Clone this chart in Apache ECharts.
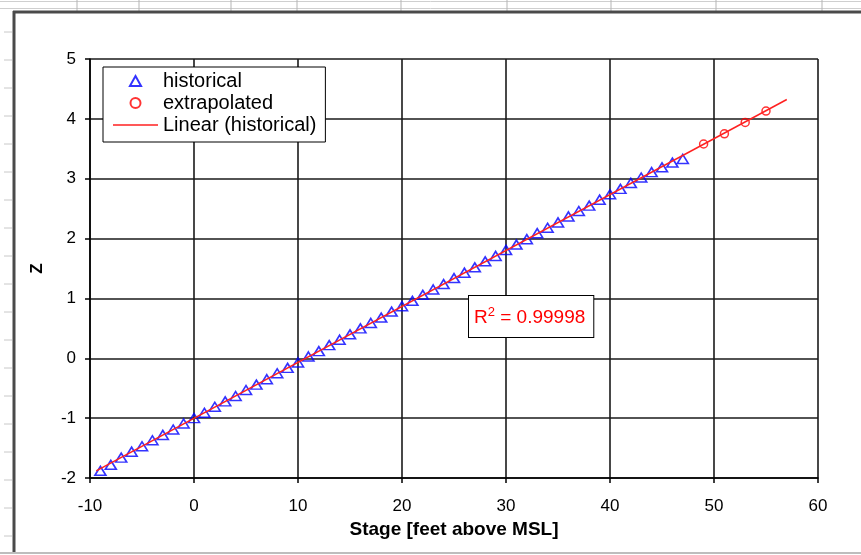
<!DOCTYPE html>
<html>
<head>
<meta charset="utf-8">
<script src="https://cdn.jsdelivr.net/npm/echarts@6/dist/echarts.min.js"></script>
<style>
  html, body { margin: 0; padding: 0; background: #fff; }
  #chart { width: 861px; height: 555px; }
</style>
</head>
<body>
<div id="chart"></div>
<script>
// historical stage / Z pairs
const histStage = [-9, -8, -7, -6, -5, -4, -3, -2, -1, 0, 1, 2, 3, 4, 5, 6, 7, 8, 9, 10,
  11, 12, 13, 14, 15, 16, 17, 18, 19, 20, 21, 22, 23, 24, 25, 26, 27, 28, 29, 30,
  31, 32, 33, 34, 35, 36, 37, 38, 39, 40, 41, 42, 43, 44, 45, 46, 47]
const histZ = [-1.88, -1.78, -1.66, -1.56, -1.47, -1.37, -1.28, -1.19, -1.09, -1.00,
  -0.91, -0.81, -0.72, -0.63, -0.53, -0.44, -0.35, -0.25, -0.16, -0.07,
  0.03, 0.12, 0.22, 0.31, 0.40, 0.50, 0.59, 0.68, 0.78, 0.87,
  0.96, 1.06, 1.15, 1.24, 1.34, 1.43, 1.52, 1.62, 1.71, 1.81,
  1.90, 1.99, 2.09, 2.18, 2.27, 2.37, 2.46, 2.55, 2.65, 2.74,
  2.83, 2.93, 3.02, 3.11, 3.19, 3.27, 3.33]

// extrapolated points
const extStage = [49, 51, 53, 55]
const extZ = [3.58, 3.75, 3.94, 4.13]

// axis ranges
const xMin = -10, xMax = 60, xStep = 10
const yMin = -2, yMax = 5, yStep = 1
const trendForward = 10
const r2Text = '0.99998'

const FONT = '"Liberation Sans", Arial, sans-serif'

// least squares fit of the historical points (Excel "Linear" trendline)
const fitLine = (xs, ys) => {
  const n = xs.length
  let sx = 0, sy = 0, sxx = 0, sxy = 0
  for (let i = 0; i < n; i++) {
    sx += xs[i]; sy += ys[i]; sxx += xs[i] * xs[i]; sxy += xs[i] * ys[i]
  }
  const b = (n * sxy - sx * sy) / (n * sxx - sx * sx)
  const a = (sy - b * sx) / n
  return { a, b }
}
const fit = fitLine(histStage, histZ)
const tx0 = Math.min(...histStage) - 0.4
const tx1 = Math.max(...histStage) + trendForward
const trendData = [[tx0, fit.a + fit.b * tx0], [tx1, fit.a + fit.b * tx1]]

// spreadsheet decoration behind the chart object
const colLines = [77, 139, 231, 297, 401, 507, 611, 716, 822]
const deco = []
deco.push({ type: 'line', shape: { x1: 0, y1: 1.5, x2: 861, y2: 1.5 }, style: { stroke: '#cfcfcf', lineWidth: 1 }, silent: true })
deco.push({ type: 'line', shape: { x1: 0, y1: 8.5, x2: 861, y2: 8.5 }, style: { stroke: '#cfcfcf', lineWidth: 1 }, silent: true })
colLines.forEach(x => {
  deco.push({ type: 'line', shape: { x1: x, y1: 0, x2: x, y2: 11 }, style: { stroke: '#b5b5b5', lineWidth: 1 }, silent: true })
})
for (let y = 32; y < 550; y += 28) {
  deco.push({ type: 'line', shape: { x1: 4, y1: y, x2: 12, y2: y }, style: { stroke: '#c8c8c8', lineWidth: 1 }, silent: true })
}
deco.push({ type: 'line', shape: { x1: 13, y1: 12, x2: 861, y2: 12 }, style: { stroke: '#4a4a4a', lineWidth: 3 }, silent: true })
deco.push({ type: 'line', shape: { x1: 14, y1: 11, x2: 14, y2: 553 }, style: { stroke: '#4a4a4a', lineWidth: 3 }, silent: true })
deco.push({ type: 'line', shape: { x1: 0, y1: 553, x2: 861, y2: 553 }, style: { stroke: '#bdbdbd', lineWidth: 2 }, silent: true })

const chart = echarts.init(document.getElementById('chart'), null, { renderer: 'canvas' })

const option = {
  animation: false,
  backgroundColor: '#fff',
  textStyle: { fontFamily: FONT },
  grid: { left: 90, right: 43, top: 59, bottom: 77, outerBoundsMode: 'none' },
  legend: {
    orient: 'vertical',
    left: 103,
    top: 67,
    padding: [4, 9, 7, 10],
    itemWidth: 45,
    itemHeight: 10,
    itemGap: 2,
    symbolKeepAspect: true,
    borderColor: '#000',
    borderWidth: 1,
    borderRadius: 0,
    backgroundColor: '#fff',
    textStyle: { fontFamily: FONT, fontSize: 20, color: '#000' },
    data: [
      { name: 'historical', icon: 'path://M5,0L10,9L0,9Z' },
      { name: 'extrapolated', icon: 'path://M4,0A4,4,0,1,1,3.99,0Z' },
      { name: 'Linear (historical)', icon: 'path://M0,0H45V1.6H0Z' }
    ]
  },
  xAxis: {
    type: 'value',
    min: xMin,
    max: xMax,
    interval: xStep,
    name: 'Stage [feet above MSL]',
    nameLocation: 'middle',
    nameGap: 38,
    nameTextStyle: { fontFamily: FONT, fontSize: 19, fontWeight: 'bold', color: '#000' },
    axisLine: { onZero: false, lineStyle: { color: '#000', width: 1.5 } },
    axisTick: { show: true, length: 5, lineStyle: { color: '#000', width: 1.5 } },
    axisLabel: { color: '#000', fontSize: 17, fontFamily: FONT, margin: 20 },
    splitLine: { show: true, lineStyle: { color: '#1a1a1a', width: 1.6 } }
  },
  yAxis: {
    type: 'value',
    min: yMin,
    max: yMax,
    interval: yStep,
    name: 'Z',
    nameLocation: 'middle',
    nameRotate: 90,
    nameGap: 44,
    nameTextStyle: { fontFamily: FONT, fontSize: 17, fontWeight: 'bold', color: '#000' },
    axisLine: { show: true, onZero: false, lineStyle: { color: '#000', width: 1.5 } },
    axisTick: { show: true, length: 5, lineStyle: { color: '#000', width: 1.5 } },
    axisLabel: { color: '#000', fontSize: 17, fontFamily: FONT, margin: 14 },
    splitLine: { show: true, lineStyle: { color: '#1a1a1a', width: 1.6 } }
  },
  series: [
    {
      name: 'historical',
      type: 'scatter',
      symbol: 'triangle',
      symbolSize: [11, 9],
      itemStyle: { color: 'rgba(0,0,0,0)', borderColor: '#0000ff', borderWidth: 1.6 },
      data: histStage.map((s, i) => [s, histZ[i]])
    },
    {
      name: 'extrapolated',
      type: 'scatter',
      symbol: 'circle',
      symbolSize: 8,
      itemStyle: { color: 'rgba(0,0,0,0)', borderColor: '#ff0000', borderWidth: 1.5 },
      data: extStage.map((s, i) => [s, extZ[i]])
    },
    {
      name: 'Linear (historical)',
      type: 'line',
      symbol: 'none',
      lineStyle: { color: '#ff2020', width: 1.5 },
      itemStyle: { color: '#ff2020' },
      data: trendData
    }
  ],
  graphic: deco.concat([
    {
      type: 'text',
      left: 468,
      top: 295,
      z: 10,
      style: {
        text: '{a|R}{s|2}{a| = ' + r2Text + '}',
        rich: {
          a: { fontFamily: FONT, fontSize: 19, fill: '#ff0000', verticalAlign: 'bottom' },
          s: { fontFamily: FONT, fontSize: 13, fill: '#ff0000', verticalAlign: 'top', padding: [0, 0, 8, 0] }
        },
        backgroundColor: '#fff',
        borderColor: '#000',
        borderWidth: 1,
        padding: [10, 8, 10, 5]
      }
    }
  ])
}

chart.setOption(option)
window.addEventListener('resize', () => chart.resize())
</script>
</body>
</html>
